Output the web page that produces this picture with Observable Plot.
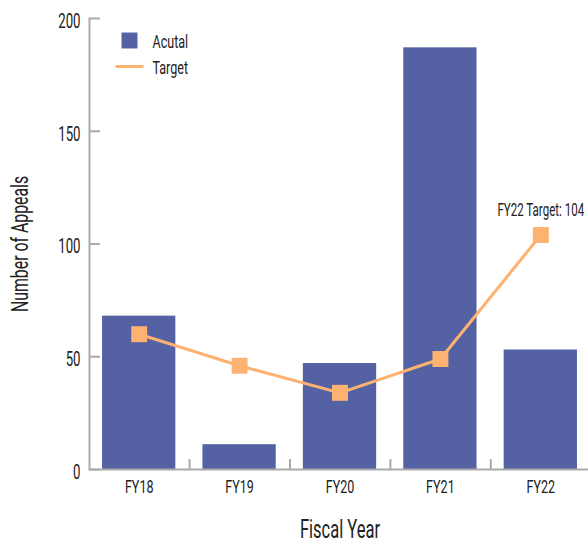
<!DOCTYPE html>
<html>
<head>
<meta charset="utf-8">
<script src="https://cdn.jsdelivr.net/npm/d3@7"></script>
<script src="https://cdn.jsdelivr.net/npm/@observablehq/plot@0.6"></script>
<style>
  html, body { margin: 0; padding: 0; background: #fff; }
  #chart svg { font-family: Roboto, "Liberation Sans", sans-serif; }
</style>
</head>
<body>
<div id="chart"></div>
<script>
const years = ["FY18", "FY19", "FY20", "FY21", "FY22"];
const actual = [68, 11, 47, 187, 53];
const target = [60, 46, 34, 49, 104];
const yTicks = [0, 50, 100, 150, 200];
const annotation = "FY22 Target: 104";

const barColor = "#5462a4";
const lineColor = "#fdb272";
const axisColor = "#aaaaaa";
const textColor = "#222222";
const narrow = 0.66; // horizontal squeeze of glyphs to mimic a condensed face

const data = years.map((y, i) => ({year: y, actual: actual[i], target: target[i]}));

const lineSymbol = {
  draw(ctx, size) { ctx.moveTo(-14, 0); ctx.lineTo(14, 0); }
};

const chart = Plot.plot({
  width: 588,
  height: 541,
  marginLeft: 89,
  marginRight: -2,
  marginTop: 18,
  marginBottom: 72,
  style: {fontSize: "19px", color: textColor, background: "#fff"},
  x: {domain: years, paddingInner: 0.27, paddingOuter: 0.13, round: false, label: null},
  y: {domain: [0, 200], label: null},
  marks: [
    Plot.barY(data, {x: "year", y: "actual", fill: barColor}),
    Plot.ruleY([0], {stroke: axisColor, strokeWidth: 2}),
    Plot.frame({anchor: "left", stroke: axisColor, strokeWidth: 2}),
    Plot.ruleX(years.slice(1), {x: d => d, y1: 0, y2: 4.4, dx: -50, stroke: axisColor, strokeWidth: 2}),
    Plot.axisY({ticks: yTicks, tickSize: -11, text: null, stroke: axisColor, strokeWidth: 2}),
    Plot.axisY({ticks: yTicks, tickSize: 0, tickPadding: 9, dy: 3, fontSize: 20, fill: textColor, label: null}),
    Plot.axisX({tickSize: 0, tickPadding: 10, fontSize: 19, fill: textColor, label: null}),
    Plot.lineY(data, {x: "year", y: "target", stroke: lineColor, strokeWidth: 3}),
    Plot.dot(data, {x: "year", y: "target", symbol: "square", r: 9, fill: lineColor, stroke: "none"}),
    Plot.text([annotation], {x: () => "FY22", y: () => 104, text: d => d, dy: -25, fontSize: 17.5, fill: textColor}),
    // legend
    Plot.dot(["Acutal"], {frameAnchor: "top-left", dx: 40, dy: 22, symbol: "square", r: 9, fill: barColor, stroke: "none"}),
    Plot.text(["Acutal"], {frameAnchor: "top-left", dx: 63, dy: 23, lineAnchor: "middle", text: d => d, textAnchor: "start", fontSize: 19, fill: textColor}),
    Plot.dot(["Target"], {frameAnchor: "top-left", dx: 40, dy: 48, symbol: lineSymbol, r: 9, stroke: lineColor, strokeWidth: 3, fill: "none"}),
    Plot.text(["Target"], {frameAnchor: "top-left", dx: 63, dy: 49, lineAnchor: "middle", text: d => d, textAnchor: "start", fontSize: 19, fill: textColor}),
    // axis titles
    Plot.text(["Fiscal Year"], {frameAnchor: "bottom", dy: 60, lineAnchor: "middle", text: d => d, fontSize: 25, fill: textColor}),
    Plot.text(["Number of Appeals"], {frameAnchor: "left", dx: -69, rotate: -90, textAnchor: "middle", lineAnchor: "middle", text: d => d, fontSize: 24, fill: textColor})
  ]
});
document.getElementById("chart").appendChild(chart);

chart.querySelectorAll("text").forEach(t => {
  const spans = t.querySelectorAll("tspan");
  const els = spans.length ? Array.from(spans) : [t];
  els.forEach(el => {
    const L = el.getComputedTextLength();
    if (L > 0) {
      el.setAttribute("textLength", (L * narrow).toFixed(2));
      el.setAttribute("lengthAdjust", "spacingAndGlyphs");
    }
  });
});
</script>
</body>
</html>
